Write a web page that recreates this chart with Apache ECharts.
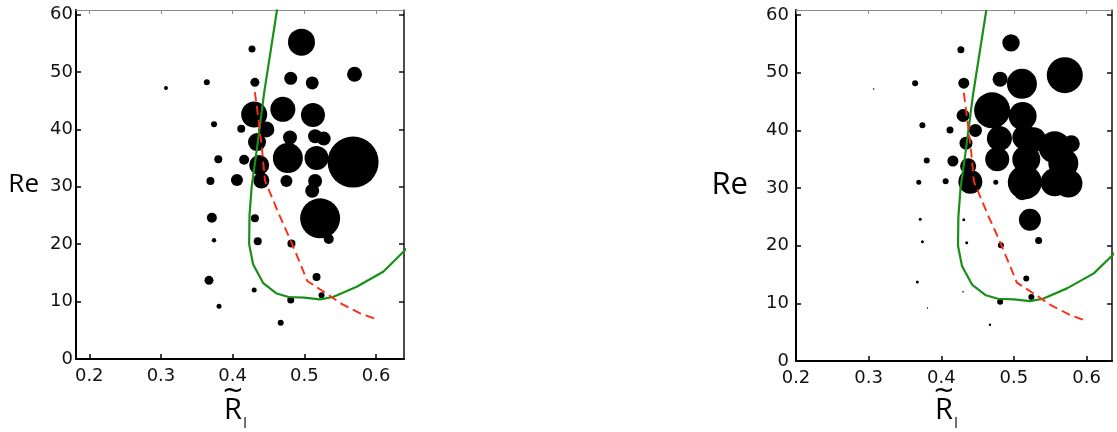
<!DOCTYPE html>
<html>
<head>
<meta charset="utf-8">
<script src="https://cdn.jsdelivr.net/npm/echarts@6/dist/echarts.min.js"></script>
<style>
  html, body { margin: 0; padding: 0; background: #fff; }
  #chart { width: 1117px; height: 432px; }
</style>
</head>
<body>
<div id="chart"></div>
<script>
// Measured cases: interface ratio R~_l and Reynolds number
const ratioR = [
  0.307, 0.364, 0.427, 0.431, 0.481, 0.511, 0.496, 0.570, 0.374, 0.412,
  0.430, 0.447, 0.434, 0.470, 0.512, 0.380, 0.416, 0.437, 0.369, 0.406,
  0.440, 0.475, 0.480, 0.477, 0.515, 0.527, 0.517, 0.568, 0.515, 0.511,
  0.522, 0.534, 0.371, 0.431, 0.374, 0.435, 0.482, 0.367, 0.517, 0.430,
  0.524, 0.481, 0.381, 0.467, 0.556, 0.579, 0.556, 0.575
];
const reynolds = [
  47.2, 48.2, 54.0, 48.2, 48.9, 48.1, 55.2, 49.6, 40.9, 40.1,
  42.6, 40.0, 37.8, 43.5, 42.5, 34.8, 34.7, 33.8, 31.0, 31.2,
  31.1, 31.0, 38.6, 35.0, 38.8, 38.4, 35.0, 34.3, 31.0, 29.3,
  24.5, 20.9, 24.6, 24.5, 20.7, 20.5, 20.1, 13.7, 14.3, 12.0,
  11.1, 10.3, 9.2, 6.3, 37.1, 37.7, 31.0, 30.8
];
// Magnitude of the measured quantity for each case (left and right panels)
const magnitudeLeft = [
  2, 3, 3.5, 4.5, 6.5, 6.5, 13.5, 7.5, 3, 4,
  13, 8, 9, 12.5, 12, 4, 5, 10, 4, 6,
  8, 6, 7, 15, 7, 7, 12, 25.5, 7, 7,
  20, 5, 5, 4, 2.2, 4, 4, 4.5, 4, 2.5,
  3, 3.5, 2.5, 3, 4, 3, 4, 3
];
const magnitudeRight = [
  0.8, 3, 3.5, 5.5, 7.5, 15, 8.7, 18, 3, 3.5,
  6.5, 6.5, 6.5, 18, 14, 3, 5.5, 8, 2.5, 3,
  12, 2.5, 12.5, 12, 12.5, 12.5, 14, 15, 17, 8,
  11, 3.5, 1.5, 1.5, 1.5, 1.5, 3, 1.5, 3, 0.8,
  3, 3, 0.7, 1.2, 16, 8.5, 14, 14
];
// Neutral stability boundary (solid green)
const boundaryR  = [0.462, 0.4437, 0.4335, 0.4265, 0.4235, 0.423, 0.4285, 0.4427, 0.4614, 0.478, 0.500, 0.522, 0.540, 0.573, 0.610, 0.645];
const boundaryRe = [60.9, 46.2, 36.3, 30.0, 25.0, 20.0, 16.5, 13.2, 11.4, 10.8, 10.7, 10.4, 10.8, 12.6, 15.2, 19.5];
// Transition estimate (dashed red)
const transitionR  = [0.431, 0.436, 0.441, 0.445, 0.450, 0.456, 0.465, 0.474, 0.483, 0.494, 0.504, 0.515, 0.526, 0.552, 0.577, 0.601];
const transitionRe = [46.5, 41.8, 36.5, 31.1, 29.6, 27.8, 25.1, 22.6, 20.0, 16.7, 13.6, 12.7, 11.8, 9.6, 8.0, 6.9];
// Tick values
const xTicks = [0.2, 0.3, 0.4, 0.5, 0.6];
const yTicks = [0, 10, 20, 30, 40, 50, 60];

const pointsLeft  = ratioR.map((r, i) => [r, reynolds[i], magnitudeLeft[i]]);
const pointsRight = ratioR.map((r, i) => [r, reynolds[i], magnitudeRight[i]]);
const boundary   = boundaryR.map((r, i) => [r, boundaryRe[i]]);
const transition = transitionR.map((r, i) => [r, transitionRe[i]]);

const grids = [
  { left: 76,  top: 10, width: 328, height: 349, xMin: 0.1815, xMax: 0.639, yMax: 60.8, yLabelMargin: 3, reSize: 26, reGap: 37, rSize: 29, titleShift: -7 },
  { left: 796, top: 10, width: 316, height: 351, xMin: 0.2,    xMax: 0.635, yMax: 60.9, yLabelMargin: 7, reSize: 31, reGap: 48, rSize: 29, titleShift: -10 }
];

const tickFont = { fontFamily: 'DejaVu Sans', fontSize: 18, color: '#111' };

const option = {
  animation: false,
  backgroundColor: '#fff',
  grid: grids.map(g => ({ left: g.left, top: g.top, width: g.width, height: g.height, show: false })),
  xAxis: [],
  yAxis: [],
  series: [],
  graphic: []
};

grids.forEach((g, k) => {
  // bottom axis with labels
  option.xAxis.push({
    type: 'value', gridIndex: k, position: 'bottom', min: g.xMin, max: g.xMax,
    axisLine: { show: true, onZero: false, lineStyle: { color: '#000', width: 2 } },
    axisTick: { show: true, inside: true, length: 5, customValues: xTicks, lineStyle: { color: '#000', width: 1.5 } },
    axisLabel: { show: true, customValues: xTicks, margin: 8, formatter: v => v.toFixed(1), ...tickFont },
    splitLine: { show: false }
  });
  // top frame
  option.xAxis.push({
    type: 'value', gridIndex: k, position: 'top', min: g.xMin, max: g.xMax,
    axisLine: { show: true, onZero: false, lineStyle: { color: '#8a8a8a', width: 1 } },
    axisTick: { show: true, inside: true, length: 4, customValues: xTicks, lineStyle: { color: '#8a8a8a', width: 1 } },
    axisLabel: { show: false },
    splitLine: { show: false }
  });
  // left axis with labels
  option.yAxis.push({
    type: 'value', gridIndex: k, position: 'left', min: 0, max: g.yMax,
    name: 'Re', nameLocation: 'middle', nameRotate: 0, nameGap: g.reGap,
    nameTextStyle: { fontFamily: 'Open Sans', fontSize: g.reSize, color: '#000' },
    axisLine: { show: true, onZero: false, lineStyle: { color: '#000', width: 2 } },
    axisTick: { show: true, inside: true, length: 5, customValues: yTicks, lineStyle: { color: '#000', width: 1.5 } },
    axisLabel: { show: true, customValues: yTicks, margin: g.yLabelMargin, ...tickFont },
    splitLine: { show: false }
  });
  // right frame
  option.yAxis.push({
    type: 'value', gridIndex: k, position: 'right', min: 0, max: g.yMax,
    axisLine: { show: true, onZero: false, lineStyle: { color: '#111', width: 1.5 } },
    axisTick: { show: true, inside: true, length: 5, customValues: yTicks, lineStyle: { color: '#111', width: 1.5 } },
    axisLabel: { show: false },
    splitLine: { show: false }
  });

  const xi = k * 2, yi = k * 2;
  option.series.push({
    type: 'scatter', xAxisIndex: xi, yAxisIndex: yi,
    data: k === 0 ? pointsLeft : pointsRight,
    symbol: 'circle',
    symbolSize: d => d[2] * 2,
    itemStyle: { color: '#000', opacity: 1 },
    z: 2, silent: true
  });
  option.series.push({
    type: 'line', xAxisIndex: xi, yAxisIndex: yi, data: boundary,
    showSymbol: false, smooth: false, clip: true,
    lineStyle: { color: '#189018', width: 2.2 },
    z: 4, silent: true
  });
  option.series.push({
    type: 'line', xAxisIndex: xi, yAxisIndex: yi, data: transition,
    showSymbol: false, smooth: false, clip: true,
    lineStyle: { color: '#ff2a12', width: 1.9, type: [9, 5] },
    z: 5, silent: true
  });

  // x-axis title: R with a tilde accent and subscript l
  const cx = g.left + g.width / 2 + g.titleShift;
  option.graphic.push({
    type: 'text', x: cx, y: 411, z: 10,
    style: { text: 'R', font: g.rSize + 'px "Open Sans"', fill: '#000', align: 'center', verticalAlign: 'middle' }
  });
  option.graphic.push({
    type: 'text', x: cx, y: 391, z: 10,
    style: { text: '~', font: '26px "DejaVu Sans"', fill: '#000', align: 'center', verticalAlign: 'middle' }
  });
  option.graphic.push({
    type: 'text', x: cx + 12, y: 424, z: 10,
    style: { text: 'l', font: '14px "Open Sans"', fill: '#000', align: 'center', verticalAlign: 'middle' }
  });
});

const chart = echarts.init(document.getElementById('chart'), null, { renderer: 'canvas' });
chart.setOption(option);
</script>
</body>
</html>
